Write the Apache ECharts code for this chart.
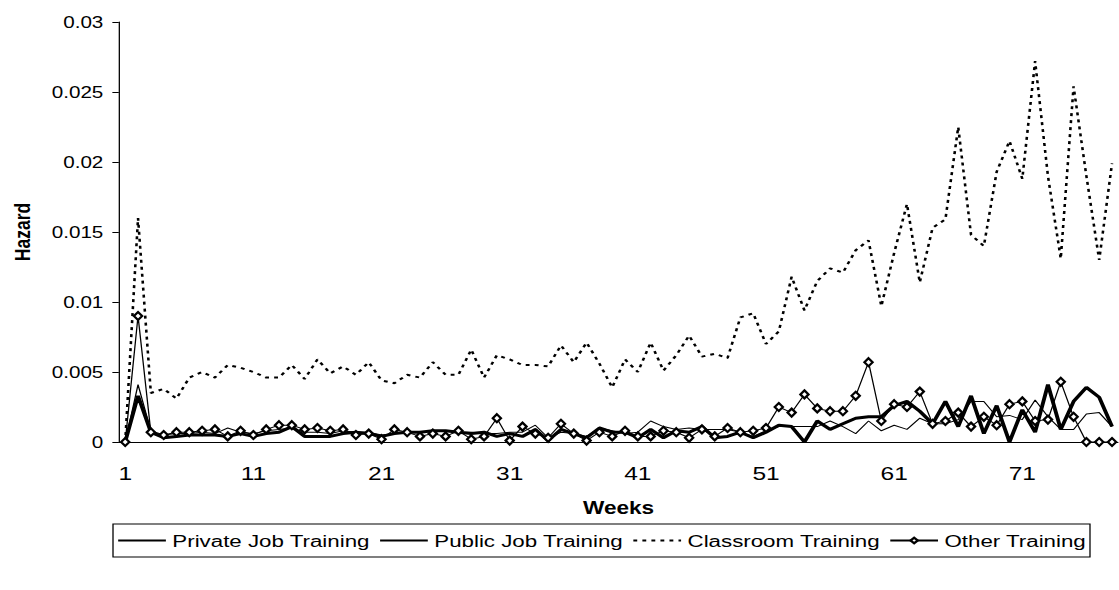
<!DOCTYPE html>
<html>
<head>
<meta charset="utf-8">
<script src="https://cdn.jsdelivr.net/npm/echarts@6/dist/echarts.min.js"></script>
<style>
  html, body { margin: 0; padding: 0; background: #fff; }
  #wrap { width: 1119px; height: 590px; overflow: hidden; position: relative; }
  #chart { width: 867.4px; height: 590px; transform: scaleX(1.29); transform-origin: 0 0; }
</style>
</head>
<body>
<div id="wrap"><div id="chart"></div></div>
<script>
var weeks = ['1','2','3','4','5','6','7','8','9','10','11','12','13','14','15','16','17','18','19','20',
  '21','22','23','24','25','26','27','28','29','30','31','32','33','34','35','36','37','38','39','40',
  '41','42','43','44','45','46','47','48','49','50','51','52','53','54','55','56','57','58','59','60',
  '61','62','63','64','65','66','67','68','69','70','71','72','73','74','75','76','77','78'];

var privateJob = [0,0.0041,0.0008,0.0005,0.0006,0.0006,0.0007,0.0006,0.0010,0.0007,
  0.0006,0.0008,0.0009,0.0010,0.0007,0.0007,0.0006,0.0008,0.0007,0.0007,
  0.0005,0.0006,0.0007,0.0007,0.0008,0.0008,0.0007,0.0007,0.0006,0.0006,
  0.0007,0.0007,0.0012,0.0003,0.0007,0.0006,0.0004,0.0010,0.0008,0.0006,
  0.0007,0.0015,0.0011,0.0009,0.0010,0.0009,0.0009,0.0009,0.0007,0.0004,
  0.0008,0.0011,0.0011,0.0011,0.0011,0.0015,0.0011,0.0006,0.0015,0.0008,
  0.0012,0.0009,0.0017,0.0013,0.0013,0.0016,0.0029,0.0029,0.0018,0.0019,
  0.0016,0.0030,0.0018,0.0009,0.0009,0.0020,0.0021,0.0011];

var publicJob = [0,0.0033,0.0007,0.0003,0.0004,0.0005,0.0005,0.0005,0.0004,0.0006,
  0.0004,0.0006,0.0007,0.0011,0.0004,0.0004,0.0004,0.0006,0.0007,0.0006,
  0.0004,0.0006,0.0007,0.0007,0.0008,0.0008,0.0007,0.0006,0.0007,0.0004,
  0.0006,0.0004,0.0009,0.0001,0.0009,0.0006,0.0003,0.0010,0.0007,0.0007,
  0.0003,0.0009,0.0003,0.0008,0.0007,0.0011,0.0003,0.0004,0.0007,0.0003,
  0.0007,0.0012,0.0011,0,0.0015,0.0009,0.0013,0.0017,0.0018,0.0018,
  0.0026,0.0029,0.0022,0.0013,0.0029,0.0011,0.0033,0.0006,0.0026,0,
  0.0023,0.0007,0.0041,0.0009,0.0029,0.0039,0.0032,0.0011];

var classroom = [0,0.0160,0.0035,0.0038,0.0031,0.0046,0.0050,0.0046,0.0055,0.0053,
  0.0050,0.0046,0.0046,0.0055,0.0045,0.0059,0.0049,0.0054,0.0048,0.0057,
  0.0044,0.0042,0.0048,0.0046,0.0057,0.0048,0.0048,0.0066,0.0046,0.0062,
  0.0059,0.0055,0.0055,0.0054,0.0069,0.0057,0.0071,0.0056,0.0039,0.0059,
  0.0050,0.0071,0.0051,0.0062,0.0076,0.0061,0.0063,0.0060,0.0089,0.0092,
  0.0070,0.0079,0.0118,0.0094,0.0115,0.0124,0.0121,0.0137,0.0144,0.0097,
  0.0135,0.0170,0.0114,0.0153,0.0159,0.0225,0.0148,0.0140,0.0193,0.0215,
  0.0188,0.0272,0.0190,0.0131,0.0254,0.0190,0.0130,0.0199];

var otherTraining = [0,0.0090,0.0007,0.0005,0.0007,0.0007,0.0008,0.0009,0.0004,0.0008,
  0.0005,0.0009,0.0012,0.0012,0.0009,0.0010,0.0008,0.0009,0.0005,0.0006,
  0.0002,0.0009,0.0007,0.0004,0.0006,0.0004,0.0008,0.0002,0.0004,0.0017,
  0.0001,0.0011,0.0006,0.0003,0.0013,0.0006,0.0001,0.0007,0.0004,0.0008,
  0.0004,0.0004,0.0008,0.0007,0.0003,0.0009,0.0004,0.0010,0.0007,0.0008,
  0.0010,0.0025,0.0021,0.0034,0.0024,0.0022,0.0022,0.0033,0.0057,0.0015,
  0.0027,0.0025,0.0036,0.0013,0.0015,0.0021,0.0011,0.0018,0.0012,0.0027,
  0.0029,0.0015,0.0016,0.0043,0.0018,0,0,0];

var yTicks = ['0','0.005','0.01','0.015','0.02','0.025','0.03'];
var seriesNames = ['Private Job Training','Public Job Training','Classroom Training','Other Training'];

var FONT = '"Liberation Sans", Arial, sans-serif';
var chart = echarts.init(document.getElementById('chart'), null, { renderer: 'svg' });
chart.setOption({
  animation: false,
  backgroundColor: '#fff',
  textStyle: { fontFamily: FONT, color: '#000' },
  grid: { left: 92.1, top: 22, width: 779.4, height: 420, containLabel: false },
  legend: {
    left: 87.6, top: 524,
    data: [
      { name: seriesNames[0], itemStyle: { opacity: 0 } },
      { name: seriesNames[1], itemStyle: { opacity: 0 } },
      { name: seriesNames[2], itemStyle: { opacity: 0 } },
      { name: seriesNames[3] }
    ],
    itemWidth: 37, itemHeight: 7, itemGap: 7,
    padding: [8, 3, 8, 3],
    borderColor: '#000', borderWidth: 1,
    textStyle: { fontSize: 17.3, color: '#000', fontFamily: FONT }
  },
  xAxis: {
    type: 'category', data: weeks, boundaryGap: true,
    name: 'Weeks', nameLocation: 'middle', nameGap: 57,
    nameTextStyle: { fontSize: 17.5, fontWeight: 'bold', color: '#000', fontFamily: FONT },
    axisLine: { lineStyle: { color: '#000', width: 1 } },
    axisTick: { interval: 0, length: 7, lineStyle: { color: '#000' } },
    axisLabel: { interval: 9, fontSize: 19, color: '#000', margin: 22, fontFamily: FONT },
    splitLine: { show: false }
  },
  yAxis: {
    type: 'value', min: 0, max: 0.03, interval: 0.005,
    name: 'Hazard', nameLocation: 'middle', nameGap: 66, nameRotate: 90,
    nameTextStyle: { fontSize: 17.5, fontWeight: 'bold', color: '#000', fontFamily: FONT },
    axisLine: { show: true, lineStyle: { color: '#000', width: 1 } },
    axisTick: { show: true, length: 5, lineStyle: { color: '#000' } },
    axisLabel: { fontSize: 16, color: '#000', margin: 12, fontFamily: FONT,
      formatter: function (v, i) { return yTicks[i]; } },
    splitLine: { show: false }
  },
  series: [
    { name: seriesNames[0], type: 'line', data: privateJob, symbol: 'none',
      lineStyle: { color: '#000', width: 1 }, itemStyle: { color: '#000' } },
    { name: seriesNames[1], type: 'line', data: publicJob, symbol: 'none',
      lineStyle: { color: '#000', width: 3 }, itemStyle: { color: '#000' } },
    { name: seriesNames[2], type: 'line', data: classroom, symbol: 'none',
      lineStyle: { color: '#000', width: 2, type: [3, 4] }, itemStyle: { color: '#000' } },
    { name: seriesNames[3], type: 'line', data: otherTraining, symbol: 'emptyDiamond', symbolSize: [6.3, 8],
      showAllSymbol: true,
      lineStyle: { color: '#000', width: 1 }, itemStyle: { color: '#000', borderWidth: 1 } }
  ]
});
</script>
</body>
</html>
